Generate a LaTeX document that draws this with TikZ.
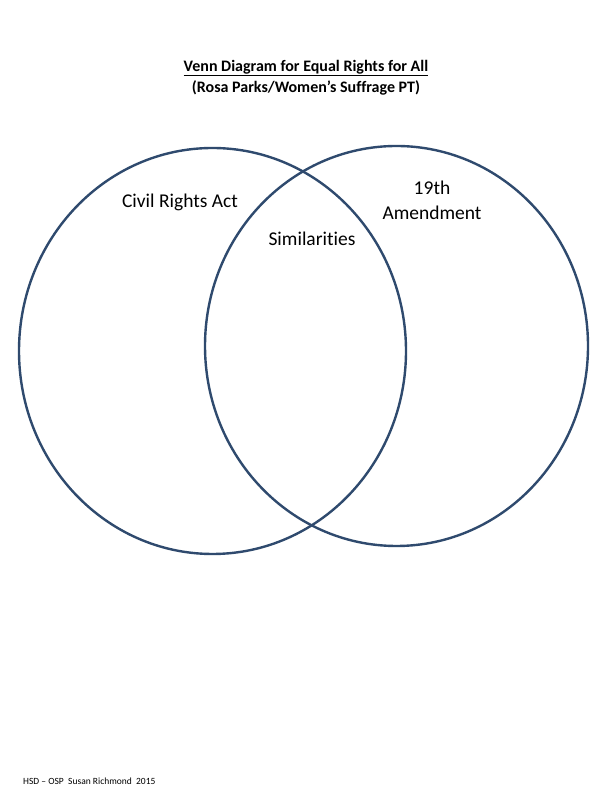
\documentclass[tikz,border=0pt]{standalone}
\usepackage{fontspec}
\setmainfont{Carlito}[Ligatures=NoCommon]
\definecolor{venn}{RGB}{47,74,110}
\begin{document}
\begin{tikzpicture}[x=1pt,y=1pt,
  ring/.style={draw=venn,line width=2.4pt},
  lbl/.style={inner sep=0pt,font=\fontsize{19.5}{25}\selectfont,align=center},
  ttl/.style={inner sep=0pt,font=\bfseries\fontsize{16}{19}\selectfont}]
\useasboundingbox (0,0) rectangle (612,792);
\fill[white] (0,0) rectangle (612,792);
\node[ttl] (t1) at (306,724) {\underline{Venn Diagram for Equal Rights for All}};
\node[ttl] (t2) at (306,704) {(Rosa Parks/Women’s Suffrage PT)};
\draw[ring] (212.5,441) ellipse [x radius=193.5,y radius=203];
\draw[ring] (396.5,446) ellipse [x radius=191.5,y radius=200];
\node[lbl] (civ) at (180,590) {Civil Rights Act};
\node[lbl] (sim) at (312,553) {Similarities};
\node[lbl] (amd) at (432,592) {19th\\Amendment};
\node[inner sep=0pt,anchor=west,font=\fontsize{9.5}{11}\selectfont] (ft) at (23,11) {HSD – OSP\ \ Susan Richmond\ \ 2015};
\end{tikzpicture}
\end{document}
